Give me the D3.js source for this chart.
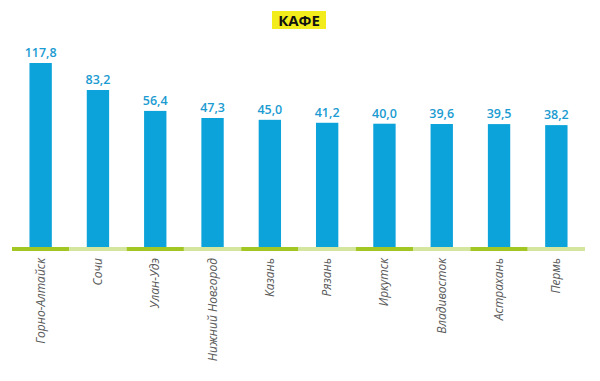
<!DOCTYPE html>
<html>
<head>
<meta charset="utf-8">
<script src="https://cdn.jsdelivr.net/npm/d3@7"></script>
<style>
  html, body { margin: 0; padding: 0; background: #fff; }
  svg { display: block; }
</style>
</head>
<body>
<div id="chart"></div>
<script>
// Average bill in cafés by city
const title = "КАФЕ";
const cities = ["Горно-Алтайск", "Сочи", "Улан-Удэ", "Нижний Новгород", "Казань",
                "Рязань", "Иркутск", "Владивосток", "Астрахань", "Пермь"];
const values = [117.8, 83.2, 56.4, 47.3, 45.0, 41.2, 40.0, 39.6, 39.5, 38.2];
// lower end of the value axis (the axis does not start at zero)
const axisDomain = [-118, 117.8];

const W = 600, H = 381;
const baseY = 247, topY = 63;

const svg = d3.select("#chart").append("svg")
  .attr("width", W).attr("height", H);

const x = d3.scaleBand()
  .domain(cities)
  .range([12, 585])
  .paddingInner(0.61)
  .paddingOuter(0.305);

const y = d3.scaleLinear()
  .domain(axisDomain)
  .range([baseY, topY]);

// alternating green strip along the baseline
const strip = d3.scaleBand().domain(cities).range([12, 585]).padding(0);
svg.append("g").selectAll("rect")
  .data(cities)
  .join("rect")
  .attr("x", d => strip(d))
  .attr("y", baseY)
  .attr("width", strip.bandwidth())
  .attr("height", 4)
  .attr("fill", (d, i) => i % 2 === 0 ? "#a2c622" : "#d4e59e");

// bars
svg.append("g").selectAll("rect")
  .data(values)
  .join("rect")
  .attr("x", (d, i) => x(cities[i]))
  .attr("y", d => y(d))
  .attr("width", x.bandwidth())
  .attr("height", d => baseY - y(d))
  .attr("fill", "#0ba3da");

// value labels
const fmt = v => d3.format(".1f")(v).replace(".", ",");
svg.append("g").selectAll("text")
  .data(values)
  .join("text")
  .attr("x", (d, i) => x(cities[i]) + x.bandwidth() / 2)
  .attr("y", d => y(d) - 6)
  .attr("text-anchor", "middle")
  .attr("font-family", "'Open Sans', sans-serif")
  .attr("font-weight", 600)
  .attr("font-size", 12.5)
  .attr("fill", "#1b9bd1")
  .text(fmt);

// city labels, rotated
svg.append("g").selectAll("text")
  .data(cities)
  .join("text")
  .attr("transform", d => `translate(${x(d) + x.bandwidth() / 2 + 4},258) rotate(-90)`)
  .attr("text-anchor", "end")
  .attr("font-family", "'Open Sans', sans-serif")
  .attr("font-style", "italic")
  .attr("font-size", 12)
  .attr("fill", "#5a5a5a")
  .text(d => d);

// title on yellow highlight
const tg = svg.append("g");
tg.append("rect")
  .attr("x", 272).attr("y", 11)
  .attr("width", 54).attr("height", 18)
  .attr("fill", "#f2ec1c");
tg.append("text")
  .attr("x", 299).attr("y", 25.5)
  .attr("text-anchor", "middle")
  .attr("font-family", "'Open Sans', sans-serif")
  .attr("font-weight", 700)
  .attr("font-size", 15)
  .attr("fill", "#111")
  .text(title);
</script>
</body>
</html>
